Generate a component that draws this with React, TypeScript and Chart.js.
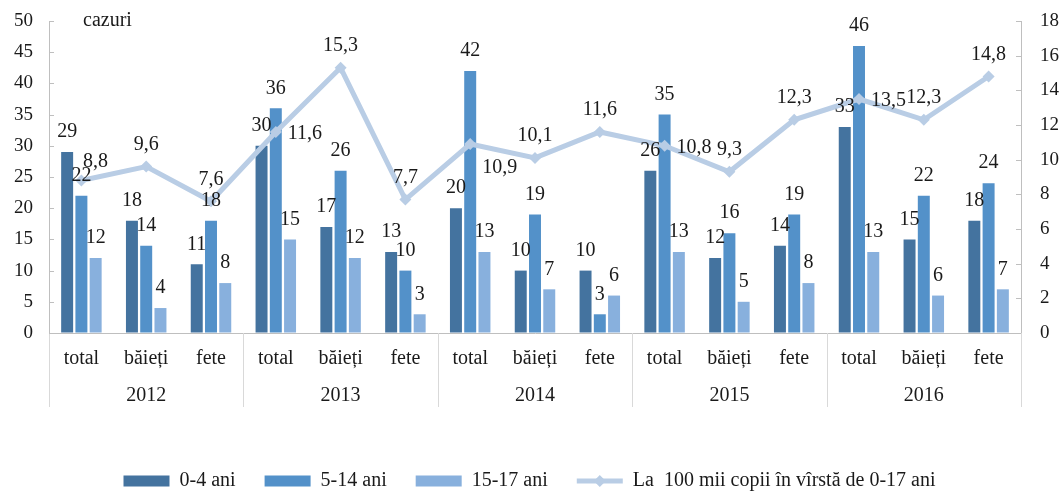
import React, { useEffect, useRef } from "react";
import { Chart, registerables } from "chart.js";

Chart.register(...registerables);

const categories = [
  "total", "băieți", "fete",
  "total", "băieți", "fete",
  "total", "băieți", "fete",
  "total", "băieți", "fete",
  "total", "băieți", "fete",
];
const years = ["2012", "2013", "2014", "2015", "2016"];
const age0to4 = [29, 18, 11, 30, 17, 13, 20, 10, 10, 26, 12, 14, 33, 15, 18];
const age5to14 = [22, 14, 18, 36, 26, 10, 42, 19, 3, 35, 16, 19, 46, 22, 24];
const age15to17 = [12, 4, 8, 15, 12, 3, 13, 7, 6, 13, 5, 8, 13, 6, 7];
const ratePer100k = [8.8, 9.6, 7.6, 11.6, 15.3, 7.7, 10.9, 10.1, 11.6, 10.8, 9.3, 12.3, 13.5, 12.3, 14.8];
const leftTicks = { min: 0, max: 50, step: 5 };
const rightTicks = { min: 0, max: 18, step: 2 };
const unitLabel = "cazuri";
const seriesNames = ["0-4 ani", "5-14 ani", "15-17 ani", "La  100 mii copii în vîrstă de 0-17 ani"];

// label placement style for the line values
const linePlacement = [
  "aboveRight", "above", "above", "right", "above", "above", "below", "above", "above",
  "right", "above", "above", "right", "above", "above",
];

const FONT = "'Liberation Serif', 'Times New Roman', serif";
const TEXT = "#1a1a1a";
const LINE_COLOR = "#b9cde5";
const AXIS_COLOR = "#bfbfbf";

const diamond = (ctx: any, x: number, y: number, r: number) => {
  ctx.beginPath();
  ctx.moveTo(x, y - r);
  ctx.lineTo(x + r, y);
  ctx.lineTo(x, y + r);
  ctx.lineTo(x - r, y);
  ctx.closePath();
  ctx.fill();
};

const labelsPlugin = {
  id: "customLabels",
  afterDatasetsDraw(chart: any) {
    const ctx = chart.ctx;
    ctx.save();
    ctx.font = `20px ${FONT}`;
    ctx.fillStyle = TEXT;
    // bar labels
    for (let d = 0; d < 3; d++) {
      const meta = chart.getDatasetMeta(d);
      const data = chart.data.datasets[d].data;
      meta.data.forEach((el: any, i: number) => {
        ctx.textAlign = "center";
        ctx.textBaseline = "middle";
        ctx.fillText(String(data[i]), el.x, el.y - 20);
      });
    }
    // line labels
    const lm = chart.getDatasetMeta(3);
    const ld = chart.data.datasets[3].data;
    lm.data.forEach((el: any, i: number) => {
      const txt = Number(ld[i]).toFixed(1).replace(".", ",");
      const p = linePlacement[i];
      ctx.textBaseline = "middle";
      if (p === "right") {
        ctx.textAlign = "left";
        ctx.fillText(txt, el.x + 12, el.y + 2);
      } else if (p === "below") {
        ctx.textAlign = "left";
        ctx.fillText(txt, el.x + 12, el.y + 24);
      } else if (p === "aboveRight") {
        ctx.textAlign = "center";
        ctx.fillText(txt, el.x + 14, el.y - 19);
      } else {
        ctx.textAlign = "center";
        ctx.fillText(txt, el.x, el.y - 22);
      }
    });
    ctx.restore();
  },
  afterDraw(chart: any) {
    const ctx = chart.ctx;
    const xs = chart.scales.x;
    const n = chart.data.labels.length;
    const half = (xs.getPixelForValue(1) - xs.getPixelForValue(0)) / 2;
    const bottom = chart.chartArea.bottom;
    ctx.save();
    // group separators
    ctx.strokeStyle = "#d9d9d9";
    ctx.lineWidth = 1;
    for (let i = 0; i <= n; i += 3) {
      const x = Math.round(i < n ? xs.getPixelForValue(i) - half : xs.getPixelForValue(n - 1) + half) + 0.5;
      ctx.beginPath();
      ctx.moveTo(x, bottom);
      ctx.lineTo(x, bottom + 74);
      ctx.stroke();
    }
    // inward tick marks on both value axes
    ctx.strokeStyle = AXIS_COLOR;
    const ys = chart.scales.y;
    const y1 = chart.scales.y1;
    const left = chart.chartArea.left;
    const right = chart.chartArea.right;
    ys.ticks.forEach((t: any) => {
      const y = Math.round(ys.getPixelForValue(t.value)) + 0.5;
      ctx.beginPath();
      ctx.moveTo(left, y);
      ctx.lineTo(left + 5, y);
      ctx.stroke();
    });
    y1.ticks.forEach((t: any) => {
      const y = Math.round(y1.getPixelForValue(t.value)) + 0.5;
      ctx.beginPath();
      ctx.moveTo(right, y);
      ctx.lineTo(right - 5, y);
      ctx.stroke();
    });
    // unit label
    ctx.font = `20px ${FONT}`;
    ctx.fillStyle = TEXT;
    ctx.textAlign = "left";
    ctx.textBaseline = "middle";
    ctx.fillText(unitLabel, left + 34, ys.getPixelForValue(leftTicks.max));
    // diamond on the line legend item
    const lg = chart.legend;
    if (lg && lg.legendHitBoxes && lg.legendHitBoxes[3]) {
      const hb = lg.legendHitBoxes[3];
      ctx.fillStyle = LINE_COLOR;
      diamond(ctx, hb.left + 23, hb.top + hb.height / 2, 6);
    }
    ctx.restore();
  },
};

export default function App() {
  const ref = useRef<HTMLCanvasElement>(null);
  useEffect(() => {
    document.body.style.margin = "0";
    if (!ref.current) return;
    const defaultGen = (Chart as any).defaults.plugins.legend.labels.generateLabels;
    const chart = new Chart(ref.current, {
      type: "bar",
      data: {
        labels: categories,
        datasets: [
          { label: seriesNames[0], data: age0to4, backgroundColor: "#44739f", yAxisID: "y", order: 1 } as any,
          { label: seriesNames[1], data: age5to14, backgroundColor: "#5391c9", yAxisID: "y", order: 1 },
          { label: seriesNames[2], data: age15to17, backgroundColor: "#88b0dd", yAxisID: "y", order: 1 },
          {
            type: "line",
            label: seriesNames[3],
            data: ratePer100k,
            yAxisID: "y1",
            borderColor: LINE_COLOR,
            backgroundColor: LINE_COLOR,
            borderWidth: 5,
            pointStyle: "rectRot",
            pointRadius: 6,
            pointBorderWidth: 0,
            order: 0,
          },
        ],
      },
      options: {
        animation: false,
        responsive: true,
        maintainAspectRatio: false,
        layout: { padding: { top: 21, left: 0, right: 0, bottom: 0 } },
        datasets: { bar: { categoryPercentage: 0.66, barPercentage: 0.84 } },
        plugins: {
          tooltip: { enabled: false },
          legend: {
            position: "bottom",
            maxHeight: 50,
            labels: {
              font: { family: FONT, size: 20 },
              color: TEXT,
              usePointStyle: true,
              pointStyleWidth: 46,
              boxHeight: 11,
              padding: 29,
              sort: (a: any, b: any) => a.datasetIndex - b.datasetIndex,
              generateLabels: (chart: any) => {
                const items = defaultGen(chart);
                items.forEach((it: any) => {
                  if (it.datasetIndex === 3) {
                    it.pointStyle = "line";
                    it.lineWidth = 5;
                    it.strokeStyle = LINE_COLOR;
                    it.fillStyle = LINE_COLOR;
                  } else {
                    it.pointStyle = "rect";
                    it.lineWidth = 0;
                  }
                });
                return items;
              },
            },
          },
        },
        scales: {
          x: {
            type: "category",
            offset: true,
            grid: { display: false },
            border: { display: true, color: AXIS_COLOR },
            ticks: { font: { family: FONT, size: 20 }, color: TEXT, padding: 6, maxRotation: 0, autoSkip: false },
            afterFit: (s: any) => { s.height = 42; },
          },
          x2: {
            type: "category",
            labels: years,
            position: "bottom",
            offset: true,
            grid: { display: false },
            border: { display: false },
            ticks: { font: { family: FONT, size: 20 }, color: TEXT, padding: 1, maxRotation: 0 },
            afterFit: (s: any) => { s.height = 67; },
          },
          y: {
            position: "left",
            min: leftTicks.min,
            max: leftTicks.max,
            ticks: { stepSize: leftTicks.step, font: { family: FONT, size: 19 }, color: TEXT, padding: 3 },
            grid: { display: true, drawOnChartArea: false, drawTicks: true, tickLength: 13, tickColor: "rgba(0,0,0,0)" },
            border: { display: true, color: AXIS_COLOR },
            afterFit: (s: any) => { s.width = 49; },
          },
          y1: {
            position: "right",
            min: rightTicks.min,
            max: rightTicks.max,
            ticks: { stepSize: rightTicks.step, font: { family: FONT, size: 19 }, color: TEXT, padding: 3 },
            grid: { display: true, drawOnChartArea: false, drawTicks: true, tickLength: 16, tickColor: "rgba(0,0,0,0)" },
            border: { display: true, color: AXIS_COLOR },
            afterFit: (s: any) => { s.width = 38; },
          },
        },
      } as any,
      plugins: [labelsPlugin],
    });
    return () => chart.destroy();
  }, []);
  return (
    <div style={{ width: 1059, height: 492, position: "relative" }}>
      <canvas ref={ref} />
    </div>
  );
}
